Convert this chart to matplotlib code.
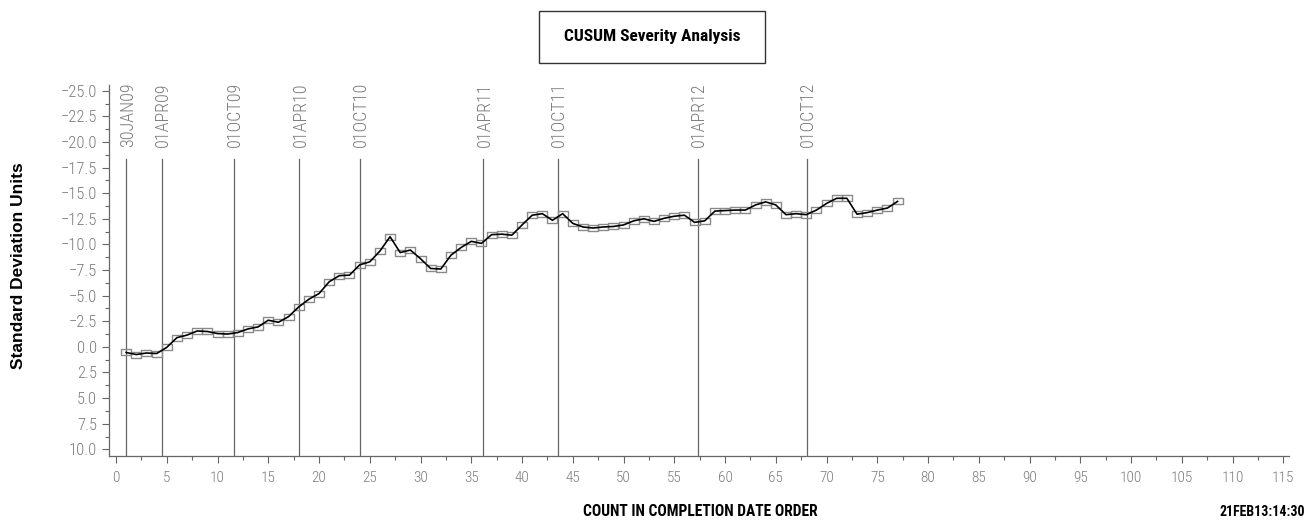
import matplotlib
matplotlib.use("Agg")
import matplotlib.pyplot as plt
from matplotlib import font_manager
from matplotlib.path import Path
from matplotlib.patches import Rectangle
from matplotlib.ticker import MultipleLocator, FuncFormatter

# ---------------- data ----------------
counts = list(range(1, 78))
cusum = [0.55, 0.75, 0.6, 0.65, 0.05, -0.9, -1.15, -1.55, -1.5, -1.3,
         -1.25, -1.4, -1.75, -1.95, -2.6, -2.4, -2.95, -3.9, -4.65, -5.2,
         -6.35, -6.95, -7.0, -8.0, -8.3, -9.35, -10.75, -9.2, -9.45, -8.6,
         -7.65, -7.6, -8.95, -9.7, -10.3, -10.1, -10.95, -11.0, -10.9, -11.9,
         -12.85, -13.0, -12.35, -13.0, -12.05, -11.7, -11.6, -11.7, -11.75, -11.9,
         -12.3, -12.5, -12.25, -12.55, -12.75, -12.85, -12.15, -12.3, -13.25, -13.3,
         -13.35, -13.35, -13.85, -14.15, -13.85, -12.9, -13.0, -12.9, -13.35, -14.0,
         -14.5, -14.5, -12.95, -13.1, -13.35, -13.55, -14.2]
ref_labels = ["30JAN09", "01APR09", "01OCT09", "01APR10", "01OCT10",
              "01APR11", "01OCT11", "01APR12", "01OCT12"]
ref_pos = [1.0, 4.5, 11.6, 18.05, 24.0, 36.2, 43.5, 57.3, 68.05]
title = "CUSUM Severity Analysis"
xlabel = "COUNT IN COMPLETION DATE ORDER"
ylabel = "Standard Deviation Units"
stamp = "21FEB13:14:30"

# ---------------- fonts ----------------
names = {f.name for f in font_manager.fontManager.ttflist}
narrow = next((n for n in ["Roboto Condensed", "Liberation Sans Narrow", "Arial Narrow",
                           "DejaVu Sans Condensed"]
               if n in names), None)
if narrow:
    bfam, s_title, s_xlab, s_stamp = narrow, 12.5, 11.2, 10.0
    tfam, tweight, ysize, xsize = narrow, "light", 12, 11
else:
    bfam, s_title, s_xlab, s_stamp = "Liberation Sans", 10, 9, 8.2
    tfam, tweight, ysize, xsize = "DejaVu Sans", "normal", 9, 9

GREY_TXT = "#7c7c7c"
GREY_AX = "#666666"

fig = plt.figure(figsize=(13.10, 5.21), dpi=100)
ax = fig.add_axes([0.0832, 0.1248, 0.9008, 0.7121])

# rectangle marker wider than tall
rect = Path([(-1, -0.55), (1, -0.55), (1, 0.55), (-1, 0.55), (-1, -0.55)],
            [Path.MOVETO, Path.LINETO, Path.LINETO, Path.LINETO, Path.CLOSEPOLY])

ax.plot(counts, cusum, color="black", lw=1.2, zorder=3)
ax.plot(counts, cusum, ls="none", marker=rect, markersize=7.8,
        markerfacecolor="none", markeredgecolor="#8a8a8a", markeredgewidth=1.0,
        zorder=2)

ax.set_xlim(-0.69, 115.56)
ax.set_ylim(10.65, -25.56)

for p, lab in zip(ref_pos, ref_labels):
    ax.plot([p, p], [10.65, -18.33], color=GREY_AX, lw=0.9, zorder=1)
    ax.text(p + 0.15, -19.5, lab, rotation=90, ha="center", va="bottom",
            color=GREY_TXT, fontsize=13, family=tfam,
            fontweight=tweight, clip_on=False)

ax.xaxis.set_major_locator(MultipleLocator(5))
ax.xaxis.set_minor_locator(MultipleLocator(2.5))
ax.yaxis.set_major_locator(MultipleLocator(2.5))
ax.yaxis.set_minor_locator(MultipleLocator(1.25))
ax.yaxis.set_major_formatter(FuncFormatter(lambda v, p: f"{v:.1f}".replace("-", "\u2212")))
ax.xaxis.set_major_formatter(FuncFormatter(lambda v, p: f"{v:.0f}"))

for s in ["top", "right"]:
    ax.spines[s].set_visible(False)
for s in ["left", "bottom"]:
    ax.spines[s].set_color(GREY_AX)
    ax.spines[s].set_linewidth(0.9)

ax.tick_params(which="major", length=5, width=0.8, color=GREY_AX,
               labelcolor=GREY_TXT)
ax.tick_params(which="minor", length=3, width=0.8, color=GREY_AX)
ax.tick_params(axis="x", which="major", pad=5.5, labelsize=xsize)
ax.tick_params(axis="y", which="major", pad=3.5, labelsize=ysize)
for lab in ax.get_xticklabels() + ax.get_yticklabels():
    lab.set_family(tfam)
    lab.set_fontweight(tweight)

# title box
fig.patches.append(Rectangle((539 / 1310, (521 - 63) / 521), 226 / 1310, 52 / 521,
                             transform=fig.transFigure, fill=False,
                             edgecolor="#333333", lw=1.0))
fig.text(652 / 1310, (521 - 37) / 521, title, ha="center", va="center",
         fontsize=s_title, fontweight="bold", family=bfam, color="black")

fig.text(19 / 1310, (521 - 266) / 521, ylabel, rotation=90, ha="center",
         va="center", fontsize=12.5, fontweight="bold", family="Liberation Sans")
fig.text(700 / 1310, (521 - 511) / 521, xlabel, ha="center", va="center",
         fontsize=s_xlab, fontweight="bold", family=bfam)
fig.text(1305 / 1310, (521 - 512) / 521, stamp, ha="right", va="center",
         fontsize=s_stamp, fontweight="bold", family=bfam)

fig.savefig("out.png", dpi=100)
